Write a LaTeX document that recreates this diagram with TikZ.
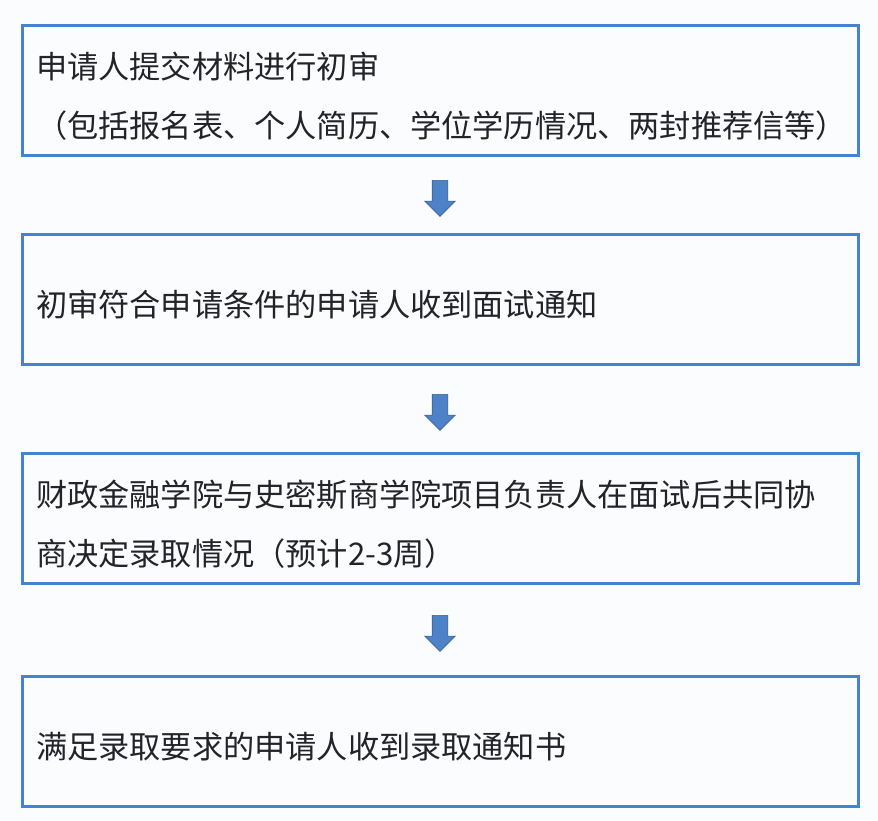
\documentclass[tikz,border=0pt]{standalone}
\usepackage{fontspec}
\setmainfont{Noto Sans CJK SC}
\usetikzlibrary{shapes.arrows,calc}
\definecolor{boxcol}{RGB}{66,132,208}
\definecolor{arrcol}{RGB}{78,130,200}
\definecolor{bgcol}{RGB}{250,252,254}
\definecolor{txtcol}{RGB}{35,35,40}
\tikzset{stage/.style={rectangle,draw=boxcol,line width=3pt,minimum width=834pt,minimum height=130pt,text width=808pt,inner xsep=14pt,align=left,text=txtcol,font=\fontsize{31.2pt}{59pt}\selectfont,execute at begin node={\rule{0pt}{38pt}}}}
\tikzset{down/.style={single arrow,rotate=-90,fill=arrcol,draw=arrcol!75!black,line width=0.6pt,minimum height=36pt,minimum width=30pt,single arrow head extend=7.5pt,inner xsep=0pt,inner ysep=7.5pt}}

\begin{document}
\begin{tikzpicture}[x=1pt,y=-1pt]
\fill [bgcol] (0,0) rectangle (878,820);
\useasboundingbox (0,0) rectangle (878,820);

\node [stage] (s1) at (440,90) {申请人提交材料进行初审\\（包括报名表、个人简历、学位学历情况、两封推荐信等）};
\node [stage] (s2) at (440,299) {初审符合申请条件的申请人收到面试通知};
\node [stage] (s3) at (440,518) {财政金融学院与史密斯商学院项目负责人在面试后共同协\\商决定录取情况（预计2-3周）};
\node [stage] (s4) at (440,741) {满足录取要求的申请人收到录取通知书};

\node [down] (a1) at ($(s1.south)!0.5!(s2.north)$) {};
\node [down] (a2) at ($(s2.south)!0.5!(s3.north)$) {};
\node [down] (a3) at ($(s3.south)!0.5!(s4.north)$) {};
\end{tikzpicture}
\end{document}
